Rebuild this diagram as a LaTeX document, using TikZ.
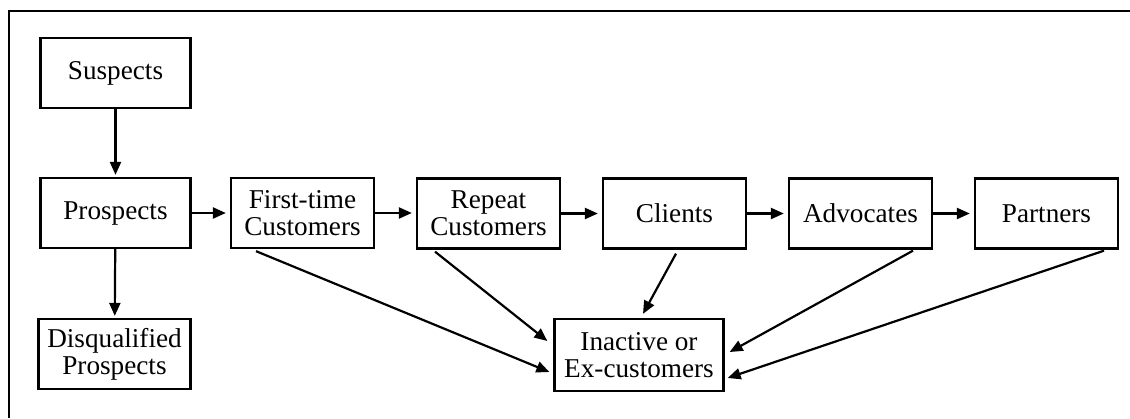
\documentclass[tikz,border=0pt]{standalone}
\usepackage{fontspec}
\setmainfont{Liberation Serif}
\usetikzlibrary{arrows.meta,calc}

\tikzset{
  stage/.style={draw, line width=1.15pt, align=center, inner sep=0pt,
    minimum width=71.5pt, minimum height=35pt,
    font=\fontsize{13.6}{13.6}\selectfont},
  flow/.style={line width=1.1pt, -{Triangle[length=6.5pt,width=5.5pt]}},
}

\begin{document}
\begin{tikzpicture}[x=0.5pt, y=-0.5pt]
  % canvas and the open frame (top and left rules only)
  \useasboundingbox (0,0) rectangle (1130,418);
  \draw[line width=1.3pt] (9,418) -- (9,11) -- (1130,11);

  % lifecycle stages
  \node[stage, minimum width=75pt] (sus) at (115.5,73) {Suspects};
  \node[stage, minimum width=75pt] (pro) at (115.5,213) {Prospects};
  \node[stage, minimum width=76pt] (dis) at (114.5,354) {Disqualified\\Prospects};
  \node[stage] (ftc) at (302.5,213) {First-time\\Customers};
  \node[stage] (rep) at (488.5,213.5) {Repeat\\Customers};
  \node[stage] (cli) at (674.5,213.5) {Clients};
  \node[stage] (adv) at (860.5,213.5) {Advocates};
  \node[stage] (par) at (1046.5,213.5) {Partners};
  \node[stage, minimum width=84.5pt, minimum height=36pt] (ina) at (639,355) {Inactive or\\Ex-customers};

  % main progression
  \draw[flow, shorten >=1pt] (sus) -- (pro);
  \draw[flow, shorten >=1pt] (pro) -- (dis);
  \draw[flow, shorten >=2pt] (pro) -- (ftc);
  \draw[flow, shorten >=2pt] (ftc.east) -- (rep.west |- ftc.east);
  \draw[flow, shorten >=2pt] (rep) -- (cli);
  \draw[flow, shorten >=2pt] (cli) -- (adv);
  \draw[flow, shorten >=2pt] (adv) -- (par);

  % lapsing into inactivity
  \draw[flow] ($(ftc.south)+(-46.5,2)$) -- ($(ina.west)+(-4,17)$);
  \draw[flow] ($(rep.south)+(-53.5,2)$) -- ($(ina.west)+(-6,-14)$);
  \draw[flow] ($(cli.south)+(1.5,4)$) -- ($(ina.north)+(4,-4)$);
  \draw[flow] ($(adv.south)+(52.5,1)$) -- ($(ina.east)+(5,-3)$);
  \draw[flow] ($(par.south)+(57.5,1)$) -- ($(ina.east)+(3,23)$);
\end{tikzpicture}
\end{document}
